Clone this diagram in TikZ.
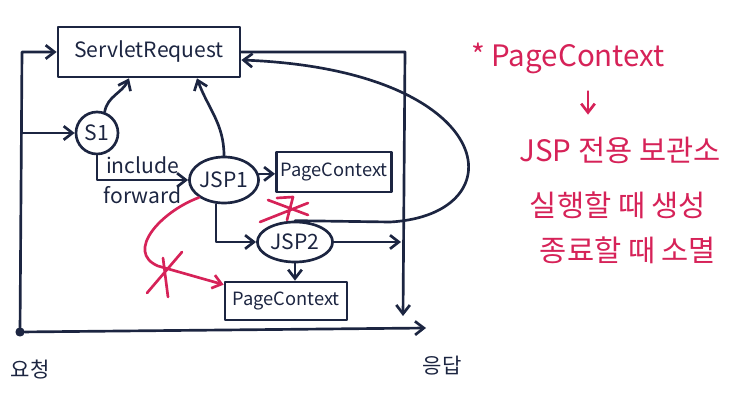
\documentclass[tikz,border=0pt]{standalone}
\usepackage{fontspec}
\setmainfont{Noto Sans CJK KR}
\usetikzlibrary{arrows.meta,shapes.geometric}
\definecolor{ink}{RGB}{28,37,65}
\definecolor{pen}{RGB}{214,34,88}

\begin{document}
\begin{tikzpicture}[x=0.025cm,y=-0.025cm,line width=1.9pt,line cap=round,line join=round,
  >={Straight Barb[length=2.2mm,width=3.4mm]},ink,
  box/.style={draw,rectangle,inner sep=0pt},
  bubble/.style={draw,ellipse,inner sep=0pt},
  big/.style={font=\fontsize{15}{18}\selectfont},
  mid/.style={font=\fontsize{13}{16}\selectfont},
  note/.style={pen,font=\fontsize{21}{24}\selectfont}]
  \useasboundingbox (0,0) rectangle (740,405);
  % nodes
  \node[box,big,minimum width=4.55cm,minimum height=1.25cm] (sreq) at (149,52){ServletRequest};
  \node[draw,circle,big,minimum size=1.05cm,inner sep=0pt] (s1) at (97,133){S1};
  \node[bubble,big,minimum width=1.63cm,minimum height=1.15cm] (jsp1) at (224,180){JSP1};
  \node[box,mid,minimum width=2.88cm,minimum height=1cm] (pc1) at (334,172){PageContext};
  \node[bubble,big,minimum width=1.88cm,minimum height=1cm] (jsp2) at (295,242){JSP2};
  \node[box,mid,minimum width=3.05cm,minimum height=0.95cm] (pc2) at (286,301){PageContext};
  \node[circle,draw,fill,inner sep=0pt,minimum size=1.6mm] (req) at (20,332){};
  \node[big] (reqlbl) at (30,370){요청};
  \node[big] (resplbl) at (442,366){응답};
  \coordinate (ltop) at (22,52);
  \coordinate (rtop) at (405,52);
  \coordinate (rbot) at (403,316);
  \coordinate (rmid) at (401,242);
  \coordinate (resp) at (426,328);
  % frame
  \draw[->] (req) -- (ltop) -- (sreq.west);
  \draw[->] (sreq.east) -- (rtop) -- (rbot);
  \draw[->] (req) -- (resp);
  \draw[->] (ltop |- s1) -- (s1.west);
  % calls
  \draw[->] (s1.70) to[out=80,in=-115] ([xshift=-5mm]sreq.south);
  \draw[->] (s1.south) |- node[pos=0.75,above,big]{include} node[pos=0.75,below,big]{forward} (jsp1.west);
  \draw[->] (jsp1.north) to[out=90,in=-70] ([xshift=1.2cm]sreq.south);
  \draw[->] (jsp1.10) -- (jsp1.10 -| pc1.west);
  \draw[->] ([xshift=-2mm]jsp1.south) |- (jsp2.west);
  \draw[->] (jsp2.east) -- (rmid);
  \draw[->] (jsp2.south) -- (jsp2.south |- pc2.north);
  \draw[->] (jsp2.north) -- (390,222) .. controls (520,215) and (500,70) .. ([yshift=-2mm]sreq.east);
  % no sharing
  \draw[pen,->] (jsp1.215) .. controls (160,212) and (125,252) .. (158,266) -- ([yshift=-1mm]pc2.north west);
  \draw[pen] (147,293) -- (182,252) (163,258) -- (168,297);
  \draw[pen] (260,222) -- (308,203) (268,200) -- (308,215) (277,198) -- (293,197) -- (287,220);
  % note
  \node[note] (title) at (568,58){* PageContext};
  \node[note] (l1) at (620,150){JSP 전용 보관소};
  \node[note] (l2) at (618,205){실행할 때 생성};
  \node[note] (l3) at (628,250){종료할 때 소멸};
  \draw[pen,->,shorten <=3mm,shorten >=4mm] ([xshift=5mm]title.south) -- ([xshift=5mm]title.south |- l1.north);
\end{tikzpicture}
\end{document}
